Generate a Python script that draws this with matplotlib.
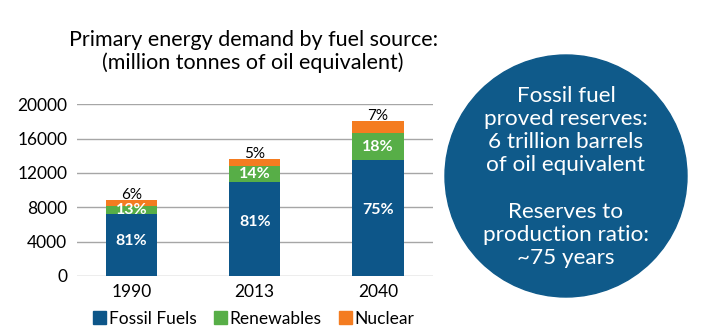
import matplotlib.pyplot as plt
from matplotlib.patches import Circle, Patch

plt.rcParams['font.family'] = ['Lato', 'DejaVu Sans']

years = ["1990", "2013", "2040"]
fossil = [7200, 11000, 13500]
renewables = [950, 1800, 3150]
nuclear = [650, 800, 1350]
fossil_pct = ["81%", "81%", "75%"]
renew_pct = ["13%", "14%", "18%"]
nuclear_pct = ["6%", "5%", "7%"]

blue = "#0D5689"
green = "#57AE47"
orange = "#F47C20"

fig = plt.figure(figsize=(7.09, 3.32), dpi=100)
ax = fig.add_axes([0.1086, 0.1687, 0.5021, 0.5171])

x = range(len(years))
w = 0.414
bottom2 = fossil
bottom3 = [f + r for f, r in zip(fossil, renewables)]
ax.bar(x, fossil, w, color=blue, zorder=2)
ax.bar(x, renewables, w, bottom=bottom2, color=green, zorder=2)
ax.bar(x, nuclear, w, bottom=bottom3, color=orange, zorder=2)

for i in x:
    ax.text(i, fossil[i] * 0.57, fossil_pct[i], color="white", fontsize=11.5,
            fontweight="bold", ha="center", va="center")
    ax.text(i, fossil[i] + renewables[i] / 2, renew_pct[i], color="white",
            fontsize=11.5, fontweight="bold", ha="center", va="center")
    ax.text(i, bottom3[i] + nuclear[i] - 150, nuclear_pct[i], color="black",
            fontsize=11, ha="center", va="bottom")

ax.set_ylim(0, 20000)
ax.set_xlim(-0.442, 2.446)
ax.set_yticks(range(0, 20001, 4000))
ax.set_xticks(list(x))
ax.set_xticklabels(years)
ax.tick_params(axis="both", length=0, labelsize=12.5)
ax.tick_params(axis="y", pad=7)
ax.tick_params(axis="x", pad=6)
ax.grid(axis="y", color="#A6A6A6", lw=1, zorder=0)
for s in ax.spines.values():
    s.set_visible(False)

fig.text(0.357, 0.88, "Primary energy demand by fuel source:", fontsize=15.5,
         ha="center", va="center")
fig.text(0.357, 0.81, "(million tonnes of oil equivalent)", fontsize=15.5,
         ha="center", va="center")

handles = [Patch(color=blue), Patch(color=green), Patch(color=orange)]
fig.legend(handles, ["Fossil Fuels", "Renewables", "Nuclear"], loc="center",
           bbox_to_anchor=(0.358, 0.04), ncol=3, frameon=False, fontsize=12.5,
           handlelength=0.75, handleheight=0.8, handletextpad=0.15,
           columnspacing=1.0)

# circle with reserves info
cax = fig.add_axes([0, 0, 1, 1])
cax.set_xlim(0, 709)
cax.set_ylim(332, 0)
cax.set_aspect("equal")
cax.axis("off")
cax.add_patch(Circle((566, 176), 121, color="#0F5A8A"))
lines = ["Fossil fuel", "proved reserves:", "6 trillion barrels",
         "of oil equivalent", "", "Reserves to", "production ratio:",
         "~75 years"]
cax.text(566, 177, "\n".join(lines), color="white", fontsize=16.2,
         ha="center", va="center", linespacing=1.2)

fig.savefig("out.png")
